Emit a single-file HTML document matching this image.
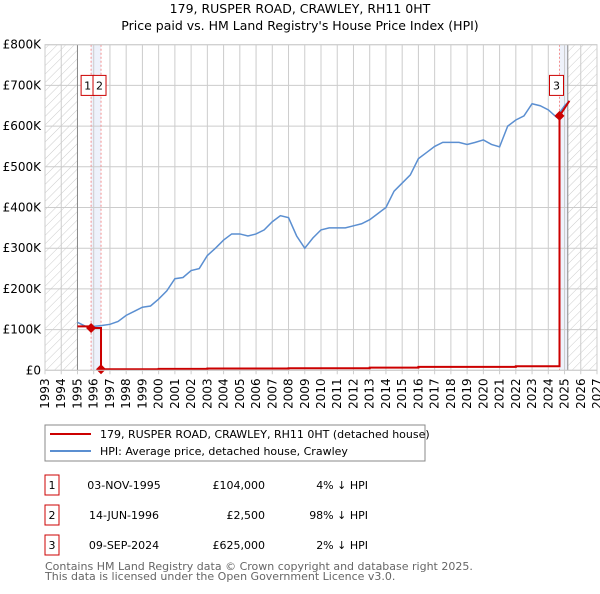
<!DOCTYPE html>
<html><head><meta charset="utf-8"><style>
body{margin:0;background:#fff;font-family:"DejaVu Sans","Liberation Sans",sans-serif;}
svg text{font-family:"DejaVu Sans","Liberation Sans",sans-serif;}
</style></head><body>
<svg id="c" width="600" height="590" xmlns="http://www.w3.org/2000/svg">
<defs><pattern id="hatch" width="6" height="6" patternUnits="userSpaceOnUse" patternTransform="rotate(45)"><line x1="0" y1="0" x2="0" y2="6" stroke="#ccc" stroke-width="1"/></pattern></defs>
<text x="300" y="13" text-anchor="middle" font-size="12.5">179, RUSPER ROAD, CRAWLEY, RH11 0HT</text>
<text x="300" y="30" text-anchor="middle" font-size="12.5">Price paid vs. HM Land Registry's House Price Index (HPI)</text>
<g id="plot"></g>
<rect x="45" y="425" width="380" height="36" fill="#fff" stroke="#888"/>
<line x1="50" y1="434" x2="91" y2="434" stroke="#cc0000" stroke-width="2"/>
<text x="100" y="438" font-size="11">179, RUSPER ROAD, CRAWLEY, RH11 0HT (detached house)</text>
<line x1="50" y1="451" x2="91" y2="451" stroke="#5b8fd1" stroke-width="2"/>
<text x="100" y="455" font-size="11">HPI: Average price, detached house, Crawley</text>
<g id="table" font-size="11"></g>
<text x="45" y="570" font-size="11" fill="#666">Contains HM Land Registry data © Crown copyright and database right 2025.</text>
<text x="45" y="580" font-size="11" fill="#666">This data is licensed under the Open Government Licence v3.0.</text>
</svg>
<script>
const hpiYears=[1995,1995.5,1996,1996.5,1997,1997.5,1998,1998.5,1999,1999.5,2000,2000.5,2001,2001.5,2002,2002.5,2003,2003.5,2004,2004.5,2005,2005.5,2006,2006.5,2007,2007.5,2008,2008.5,2009,2009.5,2010,2010.5,2011,2011.5,2012,2012.5,2013,2013.5,2014,2014.5,2015,2015.5,2016,2016.5,2017,2017.5,2018,2018.5,2019,2019.5,2020,2020.5,2021,2021.5,2022,2022.5,2023,2023.5,2024,2024.5,2025,2025.3];
const hpiValues=[118,108,108,110,113,120,135,145,155,158,175,195,225,228,245,250,282,300,320,335,335,330,335,345,365,380,375,330,300,325,345,350,350,350,355,360,370,385,400,440,460,480,520,535,550,560,560,560,555,560,566,555,549,600,615,625,655,650,640,622,650,662];
const redYears=[1995,1995.84,1996.45,2000,2003,2008,2013,2016,2022,2024.69,2025.3];
const redValues=[108,104,2.5,3.5,4.5,5,6.5,8.5,10,625,662];
const sales=[{n:"1",t:1995.84,v:104,date:"03-NOV-1995",price:"£104,000",hpi:"4% ↓ HPI"},{n:"2",t:1996.45,v:2.5,date:"14-JUN-1996",price:"£2,500",hpi:"98% ↓ HPI"},{n:"3",t:2024.69,v:625,date:"09-SEP-2024",price:"£625,000",hpi:"2% ↓ HPI"}];
const yTicks=[0,100,200,300,400,500,600,700,800];
const xTicks=[1993,1994,1995,1996,1997,1998,1999,2000,2001,2002,2003,2004,2005,2006,2007,2008,2009,2010,2011,2012,2013,2014,2015,2016,2017,2018,2019,2020,2021,2022,2023,2024,2025,2026,2027];
const X0=45,X1=597,Y0=370.3,YT=44.7;
const x=t=>X0+(t-1993)*(X1-X0)/34;
const y=v=>Y0-v*(Y0-YT)/800;
const NS="http://www.w3.org/2000/svg";
const plot=document.getElementById('plot');
function mk(tag,attrs,parent){const e=document.createElementNS(NS,tag);for(const k in attrs)e.setAttribute(k,attrs[k]);(parent||plot).appendChild(e);return e;}
let h1=mk('rect',{x:x(1993),y:YT,width:x(1995)-x(1993),height:Y0-YT,fill:'url(#hatch)'});


let h2=mk('rect',{x:x(2025.2),y:YT,width:x(2027)-x(2025.2),height:Y0-YT,fill:'url(#hatch)'});


let b1=mk('rect',{x:x(sales[0].t),y:YT,width:x(sales[1].t)-x(sales[0].t),height:Y0-YT,fill:'#eef2fb'});


let b2=mk('rect',{x:x(sales[2].t),y:YT,width:x(2025.2)-x(sales[2].t),height:Y0-YT,fill:'#eef2fb'});


yTicks.forEach(v=>{
 let l=mk('line',{x1:X0,x2:X1,y1:y(v),y2:y(v),stroke:'#ccc'});
 
 
 let t=mk('text',{x:X0-4,y:y(v)+4,'text-anchor':'end','font-size':'12'});
 t.textContent=v===0?'£0':'£'+v+'K';
 
 
});
xTicks.forEach(yr=>{
 let l=mk('line',{x1:x(yr),x2:x(yr),y1:YT,y2:Y0+4,stroke:'#ccc'});
 
 
 let t=mk('text',{transform:`translate(${x(yr)+4},${Y0+8}) rotate(-90)`,'text-anchor':'end','font-size':'12'});
 t.textContent=yr;
 
 
});
let d1=mk('line',{x1:x(1995),x2:x(1995),y1:YT,y2:Y0,stroke:'#888'});


let d2=mk('line',{x1:x(2025.2),x2:x(2025.2),y1:YT,y2:Y0,stroke:'#888'});


sales.forEach(s=>{
 let l=mk('line',{x1:x(s.t),x2:x(s.t),y1:YT,y2:Y0,stroke:'#f39090','stroke-dasharray':'2,2'});
 
 
});
let hp=mk('polyline',{points:hpiYears.map((t,i)=>x(t)+','+y(hpiValues[i])).join(' '),fill:'none',stroke:'#5b8fd1','stroke-width':1.5});


let pts=[];const last=redYears.length-1;
redYears.forEach((t,i)=>{if(i>0&&i<last)pts.push(x(t)+','+y(redValues[i-1]));pts.push(x(t)+','+y(redValues[i]));});
let rp=mk('polyline',{points:pts.join(' '),fill:'none',stroke:'#cc0000','stroke-width':2});


sales.forEach((s,i)=>{
 let d=mk('path',{d:`M${x(s.t)},${y(s.v)-5}l5,5l-5,5l-5,-5z`,fill:'#cc0000'});
 
 
 let bx=i===0?x(s.t)-10:i===1?x(s.t)-8:x(s.t)-10;
 let r=mk('rect',{x:bx,y:y(700)-10,width:i===2?14:13,height:20,fill:'#fff',stroke:'#cc0000'});
 
 
 let t=mk('text',{x:bx+(i===2?7:6.5),y:y(700)+4,'text-anchor':'middle','font-size':'11'});
 t.textContent=s.n;
 
 
});
let fr=mk('rect',{x:X0,y:YT,width:X1-X0,height:Y0-YT,fill:'none',stroke:'#ccc'});


const tb=document.getElementById('table');
sales.forEach((s,i)=>{
 const cy=485+i*30;
 let r=mk('rect',{x:45,y:cy-10,width:14,height:20,fill:'#fff',stroke:'#cc0000'},tb);
 
 
 const cells=[[52,s.n,'middle'],[124,s.date,'middle'],[265,s.price,'end'],[368,s.hpi,'end']];
 cells.forEach(c=>{let t=mk('text',{x:c[0],y:cy+4,'text-anchor':c[2]},tb);t.textContent=c[1];
 
 });
});
</script>
</body></html>
